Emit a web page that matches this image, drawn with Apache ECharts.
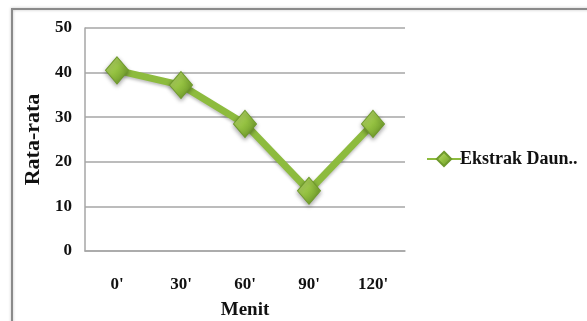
<!DOCTYPE html>
<html>
<head>
<meta charset="utf-8">
<script src="https://cdn.jsdelivr.net/npm/echarts@6/dist/echarts.min.js"></script>
<style>
  html, body { margin: 0; padding: 0; background: #ffffff; }
  #chart { width: 587px; height: 321px; }
</style>
</head>
<body>
<div id="chart"></div>
<script>
// Time points (minutes) and mean values
const categories = ["0'", "30'", "60'", "90'", "120'"];
const seriesName = 'Ekstrak Daun..';
const values = [40.5, 37.2, 28.5, 13.5, 28.5];
const yTicks = [0, 10, 20, 30, 40, 50];

const chart = echarts.init(document.getElementById('chart'));
const serif = '"Liberation Serif", "DejaVu Serif", serif';

const diamondFill = new echarts.graphic.LinearGradient(0, 0, 1, 1, [
  { offset: 0, color: '#c4e07a' },
  { offset: 0.5, color: '#93c040' },
  { offset: 1, color: '#5f8a22' }
]);

chart.setOption({
  animation: false,
  backgroundColor: '#ffffff',
  graphic: [{
    type: 'rect',
    shape: { x: 12, y: 9, width: 600, height: 340 },
    style: { fill: 'none', stroke: '#8a8a8a', lineWidth: 2,
             shadowColor: 'rgba(0,0,0,0.25)', shadowBlur: 3 },
    silent: true,
    z: -1
  }],
  grid: { left: 85, top: 28, width: 320, height: 223, containLabel: false, outerBoundsMode: 'none' },
  xAxis: {
    type: 'category',
    data: categories,
    boundaryGap: true,
    name: 'Menit',
    nameLocation: 'middle',
    nameGap: 50,
    nameTextStyle: { fontFamily: serif, fontWeight: 'bold', fontSize: 19, color: '#111' },
    axisLine: { lineStyle: { color: '#a6a6a6', width: 1.5 } },
    axisTick: { show: false },
    axisLabel: { fontFamily: serif, fontWeight: 'bold', fontSize: 17, color: '#111', margin: 25 }
  },
  yAxis: {
    type: 'value',
    min: yTicks[0],
    max: yTicks[yTicks.length - 1],
    interval: 10,
    name: 'Rata-rata',
    nameLocation: 'middle',
    nameGap: 39,
    nameRotate: 90,
    nameTextStyle: { fontFamily: serif, fontWeight: 'bold', fontSize: 22, color: '#111' },
    axisLine: { show: true, lineStyle: { color: '#a6a6a6', width: 1.5 } },
    axisTick: { show: false },
    splitLine: { lineStyle: { color: '#a6a6a6', width: 1.5 } },
    axisLabel: { fontFamily: serif, fontWeight: 'bold', fontSize: 17, color: '#111', margin: 13 }
  },
  legend: {
    data: [seriesName],
    orient: 'vertical',
    left: 421,
    top: 145,
    itemWidth: 34,
    itemHeight: 18,
    itemGap: 4,
    textStyle: { fontFamily: serif, fontWeight: 'bold', fontSize: 18, color: '#111', padding: [0, 0, 0, -6] }
  },
  series: [{
    name: seriesName,
    type: 'line',
    data: values,
    symbol: 'diamond',
    symbolSize: [23, 27],
    lineStyle: { color: '#8dbb3e', width: 7,
                 shadowColor: 'rgba(0,0,0,0.25)', shadowBlur: 3, shadowOffsetY: 2 },
    itemStyle: { color: diamondFill, borderColor: '#6f9a2c', borderWidth: 1,
                 shadowColor: 'rgba(0,0,0,0.35)', shadowBlur: 4, shadowOffsetY: 2 }
  }]
});
</script>
</body>
</html>
